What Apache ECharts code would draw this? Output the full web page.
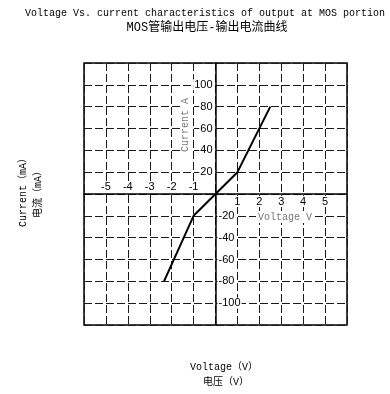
<!DOCTYPE html>
<html>
<head>
<meta charset="utf-8">
<script src="https://cdn.jsdelivr.net/npm/echarts@6/dist/echarts.min.js"></script>
<style>
  html, body { margin: 0; padding: 0; background: #fff; }
  #main { width: 390px; height: 394px; }
</style>
</head>
<body>
<div id="main"></div>
<script>
// 数据
var voltage = [-2.35, -1, 0, 1, 2.5];
var current = [-80, -20, 0, 20, 80];
var titleLines = ['Voltage Vs. current characteristics of output at MOS portion', 'MOS管输出电压-输出电流曲线'];
var xTitles = ['Voltage（V）', '电压（V）'];
var yTitles = ['Current（mA）', '电流（mA）'];

var points = voltage.map(function (v, i) { return [v, current[i]]; });

var monoFont = "'Liberation Mono', 'Noto Sans CJK SC', monospace";
var labelFont = "'Liberation Sans', Arial, sans-serif";

// 网格尺寸, 轴放在零点(网格中间)
var gridW = 263, gridH = 262;

var myChart = echarts.init(document.getElementById('main'));

var gridLine = {
  show: true,
  lineStyle: { color: '#1a1a1a', width: 1, type: [8, 3] }
};

var tickLabel = function (filter) {
  return {
    show: true,
    color: '#000',
    fontFamily: labelFont,
    fontSize: 11,
    margin: 2,
    backgroundColor: '#fff',
    padding: [0, 1],
    formatter: function (v) { return filter(v) ? String(v) : ''; }
  };
};

var option = {
  animation: false,
  backgroundColor: '#fff',
  grid: {
    left: 84, top: 63, width: gridW, height: gridH,
    show: true, borderColor: '#000', borderWidth: 1.5
  },
  xAxis: [
    {
      type: 'value', min: -6, max: 6, interval: 1, position: 'bottom', offset: -gridH / 2,
      axisLine: { onZero: false, lineStyle: { color: '#000', width: 1.5 } },
      axisTick: { show: false },
      splitLine: gridLine,
      axisLabel: tickLabel(function (v) { return v > 0 && v < 6; })
    },
    {
      type: 'value', min: -6, max: 6, interval: 1, position: 'top', offset: -gridH / 2,
      axisLine: { show: false, onZero: false },
      axisTick: { show: false },
      splitLine: { show: false },
      axisLabel: tickLabel(function (v) { return v < 0 && v > -6; })
    }
  ],
  yAxis: [
    {
      type: 'value', min: -120, max: 120, interval: 20, position: 'left', offset: -gridW / 2,
      axisLine: { onZero: false, lineStyle: { color: '#000', width: 1.5 } },
      axisTick: { show: false },
      splitLine: gridLine,
      axisLabel: tickLabel(function (v) { return v > 0 && v < 120; })
    },
    {
      type: 'value', min: -120, max: 120, interval: 20, position: 'right', offset: -gridW / 2,
      axisLine: { show: false, onZero: false },
      axisTick: { show: false },
      splitLine: { show: false },
      axisLabel: tickLabel(function (v) { return v < 0 && v > -120; })
    }
  ],
  graphic: [
    {
      type: 'text', x: 205, y: 13, z: 100,
      style: { text: titleLines[0], fill: '#000', font: '10px ' + monoFont, align: 'center', verticalAlign: 'middle' }
    },
    {
      type: 'text', x: 207, y: 28, z: 100,
      style: { text: titleLines[1], fill: '#000', font: '12px ' + monoFont, align: 'center', verticalAlign: 'middle' }
    },
    {
      type: 'text', x: 224, y: 367, z: 100,
      style: { text: xTitles[0], fill: '#000', font: '10px ' + monoFont, align: 'center', verticalAlign: 'middle' }
    },
    {
      type: 'text', x: 226, y: 382, z: 100,
      style: { text: xTitles[1], fill: '#000', font: '10px ' + monoFont, align: 'center', verticalAlign: 'middle' }
    },
    {
      type: 'text', x: 23, y: 190, rotation: Math.PI / 2, z: 100,
      style: { text: yTitles[0], fill: '#000', font: '10px ' + monoFont, align: 'center', verticalAlign: 'middle' }
    },
    {
      type: 'text', x: 38, y: 192, rotation: Math.PI / 2, z: 100,
      style: { text: yTitles[1], fill: '#000', font: '10px ' + monoFont, align: 'center', verticalAlign: 'middle' }
    },
    {
      type: 'rect', z: 99, shape: { x: 180, y: 96, width: 11, height: 58 },
      style: { fill: '#fff' }
    },
    {
      type: 'text', x: 185, y: 125, rotation: Math.PI / 2, z: 100,
      style: { text: 'Current A', fill: '#777', font: '10px ' + monoFont, align: 'center', verticalAlign: 'middle' }
    },
    {
      type: 'rect', z: 99, shape: { x: 256, y: 211, width: 58, height: 12 },
      style: { fill: '#fff' }
    },
    {
      type: 'text', x: 285, y: 217, z: 100,
      style: { text: 'Voltage V', fill: '#777', font: '10px ' + monoFont, align: 'center', verticalAlign: 'middle' }
    }
  ],
  series: [
    {
      type: 'line',
      xAxisIndex: 0,
      yAxisIndex: 0,
      data: points,
      symbol: 'none',
      z: 10,
      lineStyle: { color: '#000', width: 2 }
    }
  ]
};

myChart.setOption(option);
</script>
</body>
</html>
